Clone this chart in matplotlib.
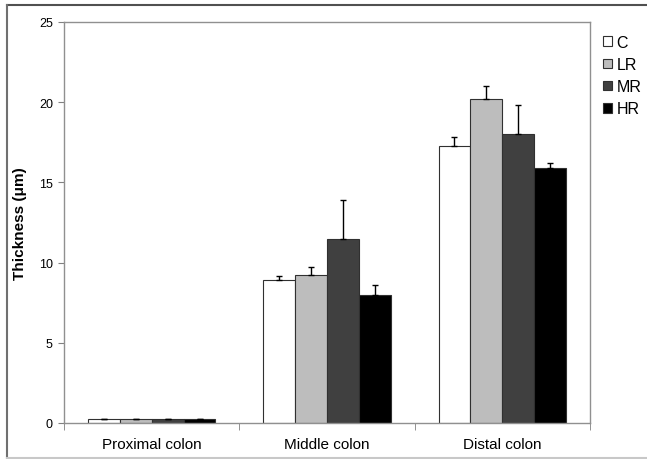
import numpy as np
import matplotlib.pyplot as plt
from matplotlib.lines import Line2D

plt.rcParams['font.family'] = ['Liberation Sans', 'DejaVu Sans']

# Data
regions = ['Proximal colon', 'Middle colon', 'Distal colon']
groups = ['C', 'LR', 'MR', 'HR']
means_C = [0.25, 8.9, 17.3]
means_LR = [0.25, 9.2, 20.2]
means_MR = [0.25, 11.5, 18.0]
means_HR = [0.25, 8.0, 15.9]
err_C = [0.03, 0.25, 0.5]
err_LR = [0.03, 0.5, 0.8]
err_MR = [0.03, 2.4, 1.85]
err_HR = [0.03, 0.6, 0.3]

means = [means_C, means_LR, means_MR, means_HR]
errs = [err_C, err_LR, err_MR, err_HR]
colors = ['white', '#bdbdbd', '#404040', 'black']

fig = plt.figure(figsize=(6.47, 4.6), dpi=100)
ax = fig.add_axes([64 / 647, 1 - 424 / 460, (590 - 64) / 647, (424 - 23) / 460])

x = np.arange(len(regions))
w = 0.182
for i, (m, e, col) in enumerate(zip(means, errs, colors)):
    pos = x + (i - 1.5) * w
    ax.bar(pos, m, width=w, color=col, edgecolor='#303030', linewidth=0.8,
           label=groups[i], zorder=2)
    ax.errorbar(pos, m, yerr=[np.zeros(len(e)), e], fmt='none', ecolor='black',
                elinewidth=1.0, capsize=2, capthick=1.0, zorder=3)

ax.set_xlim(-0.5, 2.5)
ax.set_ylim(0, 25)
ax.set_yticks([0, 5, 10, 15, 20, 25])
ax.set_xticks(x)
ax.set_xticklabels(regions, fontsize=11)
ax.set_xticks([-0.5, 0.5, 1.5, 2.5], minor=True)
ax.tick_params(axis='x', which='major', length=0, pad=10)
ax.tick_params(axis='x', which='minor', length=5, color='#808080', direction='out')
ax.tick_params(axis='y', length=4, color='#808080', direction='out', labelsize=9, pad=4)
for s in ax.spines.values():
    s.set_color('#909090')
    s.set_linewidth(1.0)
ax.set_ylabel('Thickness (\u03bcm)', fontsize=11, fontweight='bold')
ax.yaxis.set_label_coords(-0.07, 0.5)

leg = ax.legend(loc='upper left', bbox_to_anchor=(1.0, 1.0), frameon=False,
                fontsize=11.5, handlelength=0.55, handleheight=0.55,
                handletextpad=0.3, labelspacing=0.45, borderaxespad=0.4)

# outer frame: top, left and bottom edges only (right side is cut off)
W, H = 647, 460
fig.lines.append(Line2D([7 / W, 1], [1 - 6 / H, 1 - 6 / H], transform=fig.transFigure,
                        color='#505050', linewidth=1.5))
fig.lines.append(Line2D([7 / W, 7 / W], [1 - 6 / H, 1 - 459 / H], transform=fig.transFigure,
                        color='#707070', linewidth=1.5))
fig.lines.append(Line2D([7 / W, 1], [1 - 459 / H, 1 - 459 / H], transform=fig.transFigure,
                        color='#c8c8c8', linewidth=1.5))

plt.savefig('out.png', dpi=100)
